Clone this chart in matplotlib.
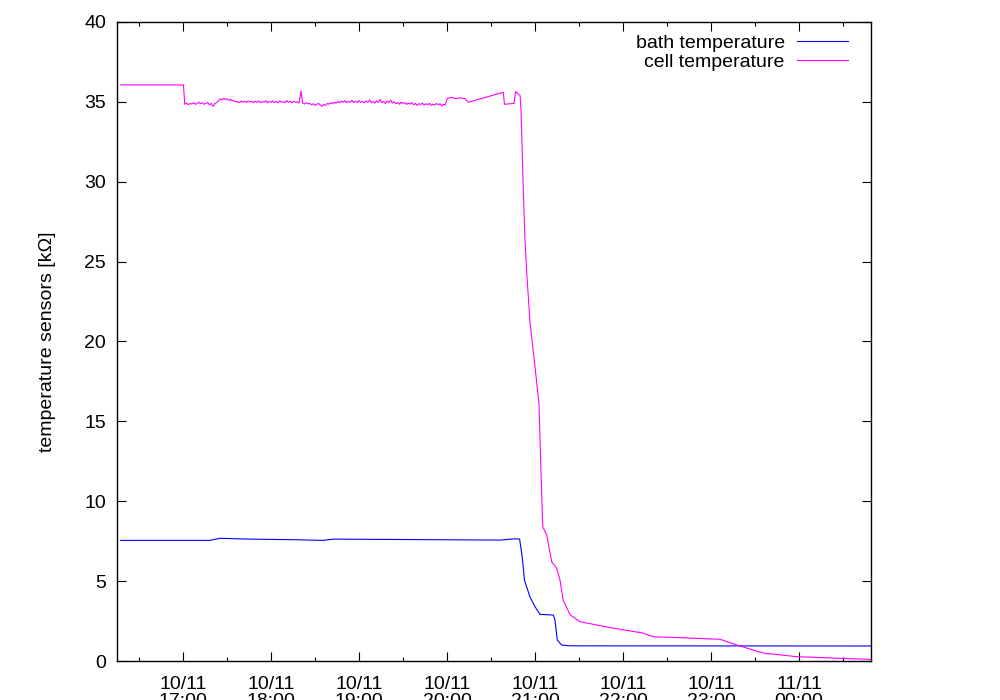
import numpy as np
import matplotlib
matplotlib.use('Agg')
import matplotlib.pyplot as plt
from matplotlib.ticker import FixedLocator, FixedFormatter, MultipleLocator

plt.rcParams['font.family'] = ['Liberation Sans', 'DejaVu Sans']

# time in hours since 10/11 00:00
tick_hours = [17, 18, 19, 20, 21, 22, 23, 24]
tick_labels = ['10/11\n17:00', '10/11\n18:00', '10/11\n19:00', '10/11\n20:00',
               '10/11\n21:00', '10/11\n22:00', '10/11\n23:00', '11/11\n00:00']

# bath temperature sensor [kOhm]
bath_t = [16.29, 17.30, 17.42, 17.76, 18.29, 18.59, 18.71, 20.61, 20.77, 20.825,
          20.855, 20.88, 20.943, 21.0, 21.057, 21.208, 21.227, 21.253, 21.303, 21.4, 24.82]
bath_v = [7.55, 7.55, 7.68, 7.63, 7.59, 7.55, 7.63, 7.57, 7.65, 7.63,
          6.5, 5.07, 4.0, 3.4, 2.92, 2.88, 2.57, 1.31, 1.0, 0.95, 0.94]

# cell temperature sensor [kOhm]
cell_start_t = [16.29, 17.005]
cell_start_v = [36.06, 36.06]

# noisy plateau, sampled every 0.02 h from 17.02 h
noise_t0, noise_dt = 17.02, 0.02
noise_v = [34.85, 34.92, 34.82, 34.9, 34.86, 34.95, 34.84, 34.9, 34.97, 34.88,
           34.93, 34.85, 34.9, 34.96, 34.82, 34.9, 34.72, 34.88, 34.95, 35.05,
           35.18, 35.12, 35.22, 35.15, 35.2, 35.1, 35.16, 35.05, 35.08, 35.0,
           35.02, 34.95, 35.05, 34.98, 35.03, 34.96, 35.06, 34.99, 35.02, 34.95,
           35.04, 34.97, 35.06, 34.95, 35.01, 34.98, 35.07, 34.94, 35.03, 34.97,
           35.05, 34.96, 35.02, 34.93, 35.06, 34.98, 35.01, 34.95, 35.08, 34.97,
           35.03, 34.94, 35.05, 34.96, 35.0, 34.93,
           35.68,
           34.92, 34.86, 34.95, 34.88, 34.9, 34.82, 34.88, 34.78, 34.85, 34.9,
           34.8, 34.72, 34.85, 34.78, 34.9, 34.86, 34.95, 34.88, 34.98, 34.92,
           35.02, 34.94, 35.05, 34.97, 35.08, 34.95, 35.03, 34.98, 35.1, 34.96,
           35.04, 34.95, 35.08, 34.98, 35.02, 34.94, 35.06, 34.97, 35.12, 34.95,
           35.03, 34.92, 35.06, 34.97, 35.15, 34.95, 35.02, 34.9, 35.05, 34.96,
           35.1, 34.93, 35.0, 34.88, 34.96, 34.85, 34.98, 34.9, 34.95, 34.84,
           34.92, 34.86, 34.95, 34.82, 34.9, 34.78, 34.88, 34.84, 34.92, 34.8,
           34.88, 34.83, 34.9, 34.78, 34.86, 34.8, 34.9, 34.82, 34.88, 34.75,
           34.85, 34.8]

cell_end_t = [20.003, 20.05, 20.1, 20.15, 20.205, 20.242, 20.64, 20.653, 20.761,
              20.778, 20.792, 20.83, 20.841, 20.867, 20.886, 20.906, 20.943, 21.0,
              21.031, 21.045, 21.068, 21.088, 21.133, 21.19, 21.247, 21.284, 21.32,
              21.398, 21.511, 21.886, 22.227, 22.34, 22.648, 23.102, 23.295, 23.59,
              23.977, 24.818]
cell_end_v = [35.22, 35.28, 35.2, 35.25, 35.2, 34.97, 35.6, 34.85, 34.9,
              35.65, 35.57, 35.4, 34.5, 29.5, 26.35, 24.3, 21.2, 18.4,
              16.8, 16.1, 11.8, 8.4, 7.9, 6.2, 5.8, 5.07, 3.8,
              2.9, 2.46, 2.06, 1.75, 1.52, 1.46, 1.36, 1.0, 0.5,
              0.27, 0.1]

noise_t = noise_t0 + noise_dt * np.arange(len(noise_v))
cell_t = np.concatenate([cell_start_t, noise_t, cell_end_t])
cell_v = np.concatenate([cell_start_v, noise_v, cell_end_v])

fig = plt.figure(figsize=(10, 7), dpi=100)
ax = fig.add_axes([0.117, 0.0557, 0.754, 0.9129])

ax.plot(bath_t, bath_v, color='#0000ff', lw=0.8, label='bath temperature')
ax.plot(cell_t, cell_v, color='#ff00ff', lw=0.8, label='cell temperature')

ax.set_xlim(16.25, 24.818)
ax.set_ylim(0, 40)

ax.xaxis.set_major_locator(FixedLocator(tick_hours))
ax.xaxis.set_major_formatter(FixedFormatter(tick_labels))
ax.xaxis.set_minor_locator(MultipleLocator(0.5))
ax.yaxis.set_major_locator(MultipleLocator(5))

ax.tick_params(which='both', direction='in', top=True, right=True, width=0.8,
               labelsize=14, colors='black')
ax.tick_params(which='major', length=6.5)
ax.tick_params(which='minor', length=3.2)
ax.tick_params(axis='y', pad=8)
ax.tick_params(axis='x', pad=10.5)
for lab in ax.get_xticklabels():
    lab.set_linespacing(1.05)
for s in ax.spines.values():
    s.set_linewidth(1.0)

ax.set_ylabel('temperature sensors [k\u03a9]', fontsize=14)
ax.yaxis.set_label_coords(-0.081, 0.5)

ax.legend(loc='upper right', bbox_to_anchor=(0.9695, 0.981), frameon=False,
          markerfirst=False, fontsize=14, handlelength=2.63, handletextpad=0.62,
          labelspacing=0.1, borderpad=0, borderaxespad=0)

fig.savefig('out.png', dpi=100)
